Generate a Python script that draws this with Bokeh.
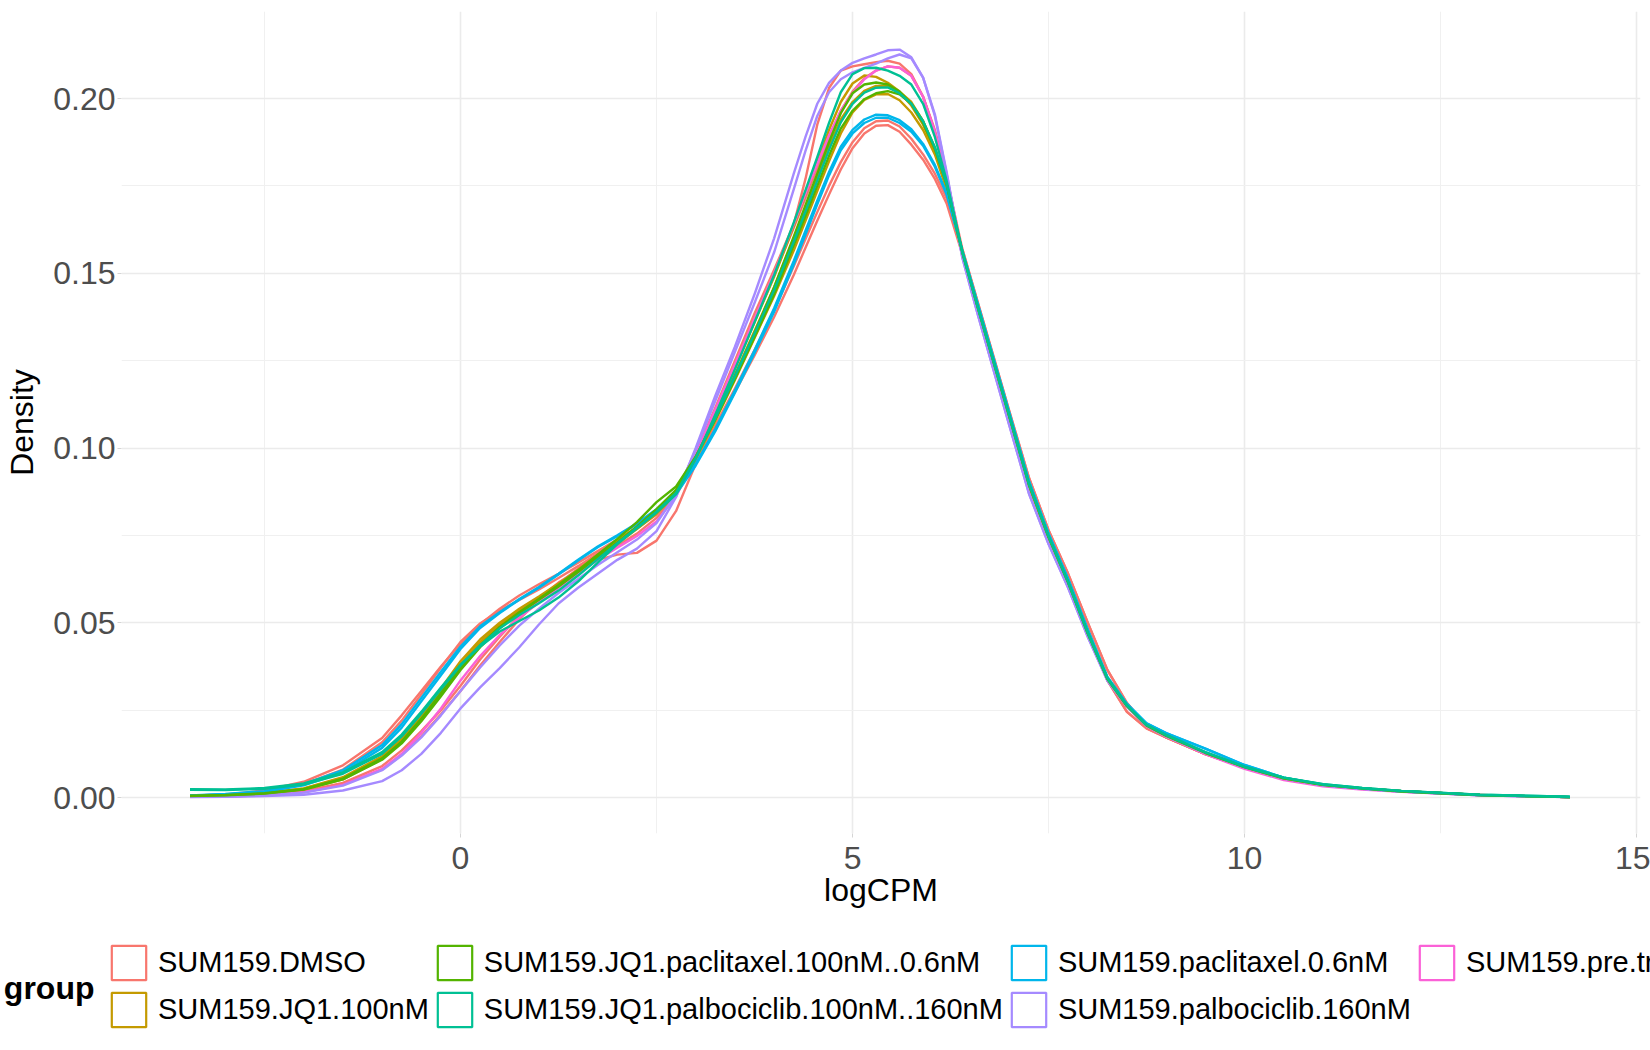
import numpy as np
from bokeh.plotting import figure
from bokeh.layouts import column, row
from bokeh.models import (Range1d, FixedTicker, Legend, LegendItem, LinearAxis,
                          NumeralTickFormatter)
from bokeh.embed import file_html
from bokeh.resources import INLINE

# logCPM positions the densities were read at
logcpm = [-3.45, -3.0, -2.5, -2.0, -1.5,
          -1.0, -0.75, -0.5, -0.25, 0.0, 0.25, 0.5, 0.75, 1.0, 1.25, 1.5, 1.75, 2.0,
          2.25, 2.5, 2.75, 3.0, 3.25, 3.5, 3.75, 4.0,
          4.25, 4.4, 4.55, 4.7, 4.85, 5.0, 5.15, 5.3, 5.45, 5.6, 5.75, 5.9, 6.05, 6.2,
          6.4, 6.6, 6.8, 7.0, 7.25, 7.5, 7.75, 8.0, 8.25, 8.5, 8.75, 9.0,
          9.5, 10.0, 10.5, 11.0, 11.5, 12.0, 13.0, 14.15]

# right-hand part of the curves (6.4 .. 14.15), where the samples nearly overlap
tail_base = [0.1560, 0.1400, 0.1245, 0.1090, 0.0895, 0.0745, 0.0615, 0.0470, 0.0340, 0.0262, 0.0206, 0.0177,
             0.0128, 0.0087, 0.0055, 0.0036, 0.0026, 0.0018, 0.0007, 0.0001]
tail_red_a = [0.1570, 0.1415, 0.1260, 0.1105, 0.0915, 0.0765, 0.0640, 0.0500, 0.0365, 0.0270, 0.0205, 0.0172,
              0.0124, 0.0086, 0.0055, 0.0036, 0.0026, 0.0018, 0.0007, 0.0001]
tail_red_b = [0.1555, 0.1395, 0.1240, 0.1085, 0.0890, 0.0740, 0.0620, 0.0480, 0.0335, 0.0245, 0.0198, 0.0172,
              0.0124, 0.0086, 0.0054, 0.0035, 0.0025, 0.0017, 0.0007, 0.0001]
tail_purple = [0.1545, 0.1380, 0.1222, 0.1065, 0.0870, 0.0725, 0.0600, 0.0460, 0.0335, 0.0260, 0.0205, 0.0175,
               0.0127, 0.0086, 0.0054, 0.0035, 0.0025, 0.0017, 0.0006, 0.0001]
tail_cyan = [0.1565, 0.1410, 0.1255, 0.1100, 0.0905, 0.0755, 0.0625, 0.0480, 0.0345, 0.0268, 0.0212, 0.0184,
             0.0140, 0.0093, 0.0057, 0.0037, 0.0026, 0.0018, 0.0007, 0.0001]
tail_teal = [0.1562, 0.1402, 0.1248, 0.1093, 0.0898, 0.0748, 0.0617, 0.0472, 0.0342, 0.0264, 0.0208, 0.0179,
             0.0130, 0.0088, 0.0057, 0.0038, 0.0027, 0.0019, 0.0008, 0.0002]
tail_pink = [0.1558, 0.1398, 0.1243, 0.1088, 0.0893, 0.0743, 0.0613, 0.0468, 0.0338, 0.0260, 0.0204, 0.0175,
             0.0124, 0.0082, 0.0050, 0.0032, 0.0023, 0.0016, 0.0006, 0.0001]

# densities per sample (-3.45 .. 6.2) + shared tail
dmso_1 = [0.0004, 0.0007, 0.0016, 0.0038, 0.0080,
          0.0158, 0.0220, 0.0295, 0.0372, 0.0445, 0.0498, 0.0535, 0.0565, 0.0595, 0.0628, 0.0662, 0.0698, 0.0735,
          0.0770, 0.0810, 0.0870, 0.0985, 0.1115, 0.1250, 0.1385, 0.1510,
          0.1640, 0.1770, 0.1925, 0.2030, 0.2080, 0.2092, 0.2098, 0.2104, 0.2108, 0.2100, 0.2070, 0.2005, 0.1905,
          0.1775] + tail_red_a
dmso_2 = [0.0002, 0.0004, 0.0008, 0.0018, 0.0042,
          0.0090, 0.0135, 0.0190, 0.0250, 0.0320, 0.0395, 0.0460, 0.0520, 0.0570, 0.0615, 0.0650, 0.0680, 0.0695,
          0.0700, 0.0735, 0.0820, 0.0955, 0.1095, 0.1235, 0.1370, 0.1495,
          0.1630, 0.1715, 0.1800, 0.1888, 0.1965, 0.2020, 0.2058, 0.2080, 0.2092, 0.2088, 0.2065, 0.2005, 0.1910,
          0.1780] + tail_red_b
dmso_3 = [0.0002, 0.0003, 0.0007, 0.0016, 0.0038,
          0.0080, 0.0122, 0.0175, 0.0238, 0.0305, 0.0378, 0.0445, 0.0510, 0.0565, 0.0612, 0.0655, 0.0690, 0.0720,
          0.0755, 0.0800, 0.0865, 0.0960, 0.1065, 0.1170, 0.1280, 0.1395,
          0.1520, 0.1598, 0.1675, 0.1750, 0.1818, 0.1875, 0.1915, 0.1935, 0.1937, 0.1920, 0.1885, 0.1840, 0.1785,
          0.1715] + tail_red_a
dmso_4 = [0.0005, 0.0009, 0.0020, 0.0045, 0.0092,
          0.0170, 0.0235, 0.0305, 0.0375, 0.0440, 0.0495, 0.0540, 0.0578, 0.0610, 0.0640, 0.0672, 0.0705, 0.0738,
          0.0772, 0.0815, 0.0875, 0.0965, 0.1060, 0.1160, 0.1265, 0.1375,
          0.1495, 0.1573, 0.1650, 0.1725, 0.1797, 0.1858, 0.1900, 0.1922, 0.1924, 0.1905, 0.1868, 0.1825, 0.1770,
          0.1700] + tail_red_b
jq1_1 = [0.0006, 0.0008, 0.0013, 0.0026, 0.0058,
         0.0118, 0.0168, 0.0235, 0.0312, 0.0390, 0.0452, 0.0500, 0.0540, 0.0575, 0.0612, 0.0652, 0.0695, 0.0735,
         0.0775, 0.0820, 0.0878, 0.0985, 0.1105, 0.1230, 0.1360, 0.1490,
         0.1635, 0.1725, 0.1817, 0.1910, 0.1990, 0.2043, 0.2066, 0.2062, 0.2045, 0.2020, 0.1990, 0.1935, 0.1855,
         0.1750] + tail_base
jq1_2 = [0.0005, 0.0007, 0.0012, 0.0025, 0.0056,
         0.0115, 0.0165, 0.0232, 0.0306, 0.0382, 0.0444, 0.0494, 0.0534, 0.0570, 0.0606, 0.0646, 0.0690, 0.0730,
         0.0771, 0.0815, 0.0872, 0.0975, 0.1090, 0.1210, 0.1335, 0.1460,
         0.1600, 0.1687, 0.1775, 0.1862, 0.1940, 0.1990, 0.2022, 0.2036, 0.2036, 0.2018, 0.1980, 0.1925, 0.1850,
         0.1745] + tail_base
jq1_3 = [0.0004, 0.0006, 0.0011, 0.0023, 0.0052,
         0.0110, 0.0160, 0.0226, 0.0300, 0.0376, 0.0440, 0.0492, 0.0533, 0.0568, 0.0604, 0.0643, 0.0686, 0.0727,
         0.0768, 0.0812, 0.0868, 0.0968, 0.1078, 0.1195, 0.1315, 0.1435,
         0.1565, 0.1650, 0.1735, 0.1820, 0.1900, 0.1960, 0.1996, 0.2012, 0.2013, 0.1995, 0.1960, 0.1910, 0.1840,
         0.1740] + tail_base
jq1_pac_1 = [0.0005, 0.0007, 0.0012, 0.0024, 0.0054,
             0.0112, 0.0160, 0.0225, 0.0298, 0.0372, 0.0435, 0.0488, 0.0530, 0.0568, 0.0608, 0.0650, 0.0695, 0.0740,
             0.0788, 0.0845, 0.0890, 0.0975, 0.1085, 0.1205, 0.1330, 0.1460,
             0.1605, 0.1695, 0.1785, 0.1875, 0.1958, 0.2015, 0.2040, 0.2046, 0.2040, 0.2020, 0.1985, 0.1930, 0.1855,
             0.1755] + tail_base
jq1_pac_2 = [0.0004, 0.0006, 0.0011, 0.0023, 0.0052,
             0.0108, 0.0155, 0.0218, 0.0290, 0.0365, 0.0430, 0.0484, 0.0528, 0.0566, 0.0604, 0.0645, 0.0688, 0.0730,
             0.0775, 0.0825, 0.0880, 0.0975, 0.1082, 0.1198, 0.1318, 0.1440,
             0.1580, 0.1664, 0.1750, 0.1836, 0.1914, 0.1965, 0.1998, 0.2015, 0.2021, 0.2012, 0.1985, 0.1935, 0.1860,
             0.1755] + tail_base
jq1_palbo_1 = [0.0024, 0.0023, 0.0027, 0.0040, 0.0072,
               0.0130, 0.0180, 0.0245, 0.0315, 0.0380, 0.0432, 0.0475, 0.0505, 0.0535, 0.0572, 0.0618, 0.0672, 0.0725,
               0.0770, 0.0815, 0.0868, 0.0970, 0.1095, 0.1225, 0.1360, 0.1495,
               0.1645, 0.1738, 0.1832, 0.1930, 0.2018, 0.2070, 0.2087, 0.2088, 0.2080, 0.2065, 0.2040, 0.1985,
               0.1890, 0.1765] + tail_teal
jq1_palbo_2 = [0.0022, 0.0021, 0.0025, 0.0037, 0.0068,
               0.0125, 0.0175, 0.0240, 0.0310, 0.0378, 0.0436, 0.0484, 0.0522, 0.0556, 0.0592, 0.0635, 0.0682, 0.0728,
               0.0772, 0.0818, 0.0872, 0.0972, 0.1085, 0.1205, 0.1328, 0.1452,
               0.1590, 0.1677, 0.1765, 0.1853, 0.1932, 0.1985, 0.2017, 0.2031, 0.2032, 0.2015, 0.1985, 0.1935,
               0.1860, 0.1755] + tail_teal
pac_1 = [0.0006, 0.0010, 0.0018, 0.0038, 0.0078,
         0.0150, 0.0210, 0.0285, 0.0360, 0.0432, 0.0490, 0.0530, 0.0568, 0.0602, 0.0640, 0.0680, 0.0718, 0.0750,
         0.0785, 0.0825, 0.0872, 0.0955, 0.1055, 0.1165, 0.1280, 0.1400,
         0.1535, 0.1622, 0.1708, 0.1790, 0.1862, 0.1910, 0.1940, 0.1954, 0.1952, 0.1938, 0.1912, 0.1870, 0.1810,
         0.1730] + tail_cyan
pac_2 = [0.0005, 0.0009, 0.0016, 0.0035, 0.0072,
         0.0142, 0.0200, 0.0275, 0.0350, 0.0425, 0.0485, 0.0528, 0.0566, 0.0600, 0.0638, 0.0678, 0.0716, 0.0748,
         0.0782, 0.0822, 0.0868, 0.0950, 0.1048, 0.1158, 0.1272, 0.1390,
         0.1525, 0.1611, 0.1697, 0.1780, 0.1852, 0.1900, 0.1930, 0.1945, 0.1945, 0.1930, 0.1905, 0.1865, 0.1805,
         0.1725] + tail_cyan
palbo_1 = [0.0001, 0.0002, 0.0004, 0.0008, 0.0020,
           0.0047, 0.0078, 0.0125, 0.0185, 0.0255, 0.0315, 0.0370, 0.0430, 0.0495, 0.0555, 0.0600, 0.0640, 0.0680,
           0.0712, 0.0762, 0.0860, 0.1000, 0.1150, 0.1290, 0.1440, 0.1600,
           0.1785, 0.1890, 0.1985, 0.2045, 0.2080, 0.2102, 0.2115, 0.2126, 0.2138, 0.2140, 0.2118, 0.2060, 0.1955,
           0.1790] + tail_purple
palbo_2 = [0.0002, 0.0003, 0.0006, 0.0014, 0.0034,
           0.0078, 0.0120, 0.0172, 0.0235, 0.0305, 0.0372, 0.0435, 0.0492, 0.0540, 0.0585, 0.0625, 0.0665, 0.0702,
           0.0738, 0.0785, 0.0868, 0.0995, 0.1135, 0.1275, 0.1415, 0.1560,
           0.1740, 0.1850, 0.1950, 0.2018, 0.2055, 0.2075, 0.2088, 0.2100, 0.2115, 0.2126, 0.2115, 0.2060, 0.1950,
           0.1785] + tail_purple
pre_1 = [0.0002, 0.0003, 0.0006, 0.0015, 0.0036,
         0.0082, 0.0125, 0.0185, 0.0255, 0.0335, 0.0405, 0.0465, 0.0515, 0.0558, 0.0600, 0.0640, 0.0680, 0.0715,
         0.0748, 0.0790, 0.0862, 0.0985, 0.1110, 0.1240, 0.1370, 0.1500,
         0.1640, 0.1727, 0.1813, 0.1895, 0.1965, 0.2015, 0.2055, 0.2080, 0.2092, 0.2088, 0.2065, 0.2005, 0.1905,
         0.1775] + tail_pink

groups = ["SUM159.DMSO", "SUM159.JQ1.100nM", "SUM159.JQ1.paclitaxel.100nM..0.6nM",
          "SUM159.JQ1.palbociclib.100nM..160nM", "SUM159.paclitaxel.0.6nM",
          "SUM159.palbociclib.160nM", "SUM159.pre.treatment"]
group_colors = ["#F8766D", "#C49A00", "#53B400", "#00C094", "#00B6EB", "#A58AFF", "#FB61D7"]

# (group index, density) in drawing order
samples = [(0, dmso_1), (0, dmso_2), (0, dmso_3), (0, dmso_4),
           (1, jq1_1), (1, jq1_2), (1, jq1_3),
           (6, pre_1),
           (5, palbo_1), (5, palbo_2),
           (4, pac_1), (4, pac_2),
           (2, jq1_pac_1), (2, jq1_pac_2),
           (3, jq1_palbo_1), (3, jq1_palbo_2)]

x_ticks = [0, 5, 10, 15]
x_minor = [-2.5, 2.5, 7.5, 12.5]
y_ticks = [0.0, 0.05, 0.10, 0.15, 0.20]
y_minor = [0.025, 0.075, 0.125, 0.175]

FONT = "Liberation Sans"
W = 1650

p = figure(width=W, height=925, output_backend="svg", toolbar_location=None,
           x_range=Range1d(-4.324, 15.05), y_range=Range1d(-0.0103, 0.2249),
           min_border_left=121, min_border_right=10, min_border_top=11, min_border_bottom=92)
p.outline_line_color = None

for g, dens in samples:
    p.line(logcpm, dens, line_color=group_colors[g], line_width=2.4, line_join="round")

p.xaxis.ticker = FixedTicker(ticks=x_ticks, minor_ticks=x_minor)
p.yaxis.ticker = FixedTicker(ticks=y_ticks, minor_ticks=y_minor)
p.yaxis.formatter = NumeralTickFormatter(format="0.00")

for grid in (p.xgrid, p.ygrid):
    grid.grid_line_color = "#EBEBEB"
    grid.grid_line_width = 1.6
    grid.minor_grid_line_color = "#F0F0F0"
    grid.minor_grid_line_width = 1.0

for ax in (p.xaxis, p.yaxis):
    ax.axis_line_color = None
    ax.major_tick_line_color = "#D5D5D5"
    ax.major_tick_in = 0
    ax.major_tick_out = 4
    ax.minor_tick_line_color = None
    ax.major_label_text_font = FONT
    ax.major_label_text_font_size = "32px"
    ax.major_label_text_color = "#4D4D4D"
    ax.axis_label_text_font = FONT
    ax.axis_label_text_font_size = "32px"
    ax.axis_label_text_font_style = "normal"
    ax.axis_label_text_color = "black"

p.xaxis.axis_label = "logCPM"
p.xaxis.major_label_standoff = 9
p.xaxis.axis_label_standoff = 0
p.yaxis.axis_label = "Density"
p.yaxis.major_label_standoff = 2
p.yaxis.axis_label_standoff = 10

# legend strip under the plot (pixel coordinates); runs off the right edge like the original
LEG_H = 125
LEG_LEFT = 99
leg = figure(width=W, height=LEG_H, output_backend="svg", toolbar_location=None,
             x_range=Range1d(0, W - LEG_LEFT), y_range=Range1d(0, LEG_H),
             x_axis_type=None, y_axis_type=None,
             min_border_left=LEG_LEFT, min_border_right=0, min_border_top=0, min_border_bottom=0)
leg.outline_line_color = None

# legend title "group", written as the single label of a left axis
title_y = 63
title_axis = LinearAxis(ticker=FixedTicker(ticks=[title_y]), major_label_overrides={title_y: "group"},
                        axis_line_color=None, major_tick_line_color=None, minor_tick_line_color=None,
                        major_label_standoff=7, major_label_text_font=FONT,
                        major_label_text_font_size="32px", major_label_text_font_style="bold",
                        major_label_text_color="black")
leg.add_layout(title_axis, "left")

items = []
for name, col in zip(groups, group_colors):
    key = leg.rect(x=np.array([np.nan]), y=np.array([np.nan]), width=1, height=1,
                   fill_color="white", line_color=col, line_width=2.2)
    items.append(LegendItem(label=name, renderers=[key]))

legend = Legend(items=items, location=(0, 19), orientation="vertical", nrows=2,
                glyph_width=43, glyph_height=43, spacing=4, label_standoff=8,
                padding=0, margin=0, border_line_color=None, background_fill_alpha=0,
                label_text_font=FONT, label_text_font_size="29px", label_text_color="black",
                label_text_baseline="middle")
leg.add_layout(legend, "center")

open("out.html", "w").write(file_html(column(p, row(leg), spacing=0), INLINE))
